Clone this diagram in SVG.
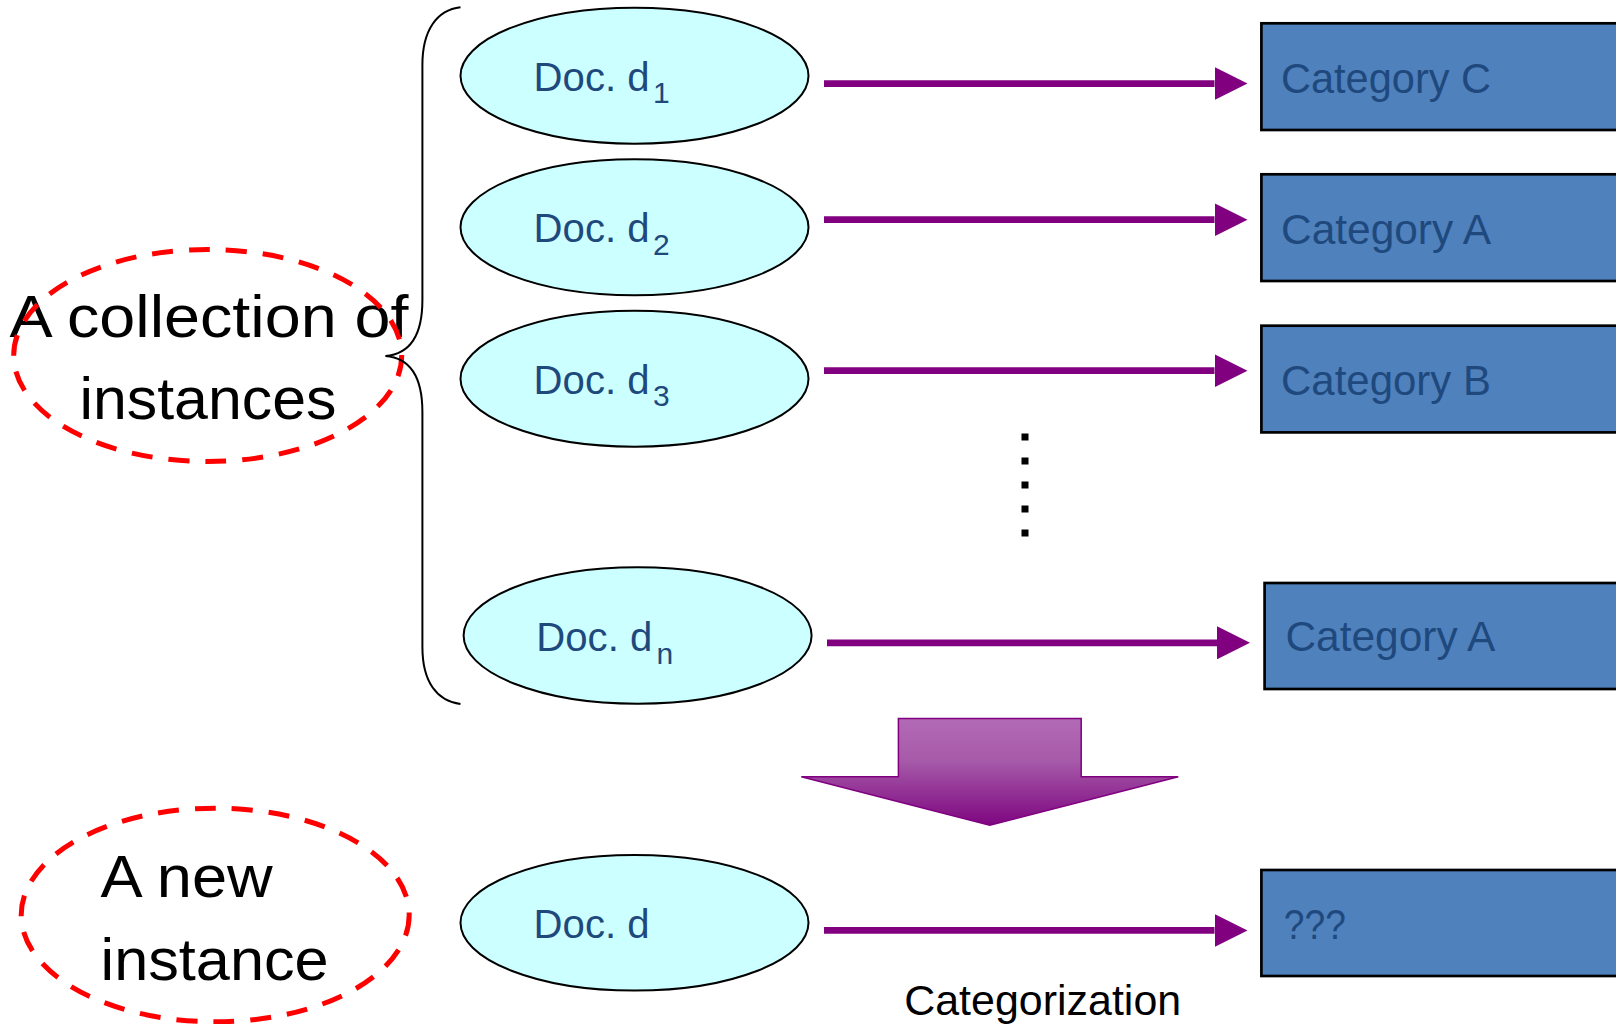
<svg xmlns="http://www.w3.org/2000/svg" width="1616" height="1024" viewBox="0 0 1616 1024">
  <style>
    .doc { fill: #CCFFFF; stroke: #000; stroke-width: 2; }
    .cat { fill: #4F81BD; stroke: #000; stroke-width: 2.7; }
    .ring { fill: none; stroke: #FF0000; stroke-width: 5; stroke-dasharray: 21 16; }
    .edge { stroke: #800080; stroke-width: 6.8; fill: none; marker-end: url(#head); }
    .lbl { font-family: "Liberation Sans Narrow", "Liberation Sans", Arial, sans-serif; }
    .big { font-size: 60px; fill: #000; }
    .doct { font-size: 40px; fill: #1F497D; }
    .sub { font-size: 30px; fill: #1F497D; }
    .catt { font-size: 42px; fill: #1F497D; }
    .note { font-size: 42px; fill: #000; }
  </style>
  <defs>
    <marker id="head" viewBox="0 0 33 33" refX="0" refY="16.5" markerWidth="33" markerHeight="33" markerUnits="userSpaceOnUse" orient="auto">
      <path d="M0,0 L33,16.5 L0,33 z" fill="#800080"/>
    </marker>
    <linearGradient id="purpleFade" x1="0" y1="0" x2="0" y2="1">
      <stop offset="0" stop-color="#B36AB5"/>
      <stop offset="0.4" stop-color="#A65AA9"/>
      <stop offset="1" stop-color="#7E0680"/>
    </linearGradient>
  </defs>

  <rect width="1616" height="1024" fill="#FFFFFF"/>

  <!-- left-hand labels -->
  <g id="collection">
    <text class="lbl big" x="9.5" y="337" textLength="399" lengthAdjust="spacingAndGlyphs">A collection of</text>
    <text class="lbl big" x="79.4" y="419" textLength="257" lengthAdjust="spacingAndGlyphs">instances</text>
    <ellipse class="ring" cx="207.7" cy="355.5" rx="194" ry="106"/>
  </g>
  <g id="new-instance">
    <text class="lbl big" x="100.6" y="897" textLength="172" lengthAdjust="spacingAndGlyphs">A new</text>
    <text class="lbl big" x="100.6" y="979.8" textLength="228" lengthAdjust="spacingAndGlyphs">instance</text>
    <ellipse class="ring" cx="215.2" cy="915" rx="194" ry="106.8"/>
  </g>

  <!-- curly brace grouping the training documents -->
  <g id="brace">
    <path d="M460.5,7.3 C437,10 422.4,30 422.4,65 L422.4,300 C422.4,335 410,354 385.4,356 C410,358 422.4,377 422.4,412 L422.4,647 C422.4,682 437,701 460.5,704" fill="none" stroke="#000" stroke-width="2"/>
  </g>

  <!-- documents -->
  <g id="doc-d1">
    <ellipse class="doc" cx="634.5" cy="75.7" rx="174" ry="68"/>
    <text class="lbl doct" x="533.6" y="90.7" textLength="116" lengthAdjust="spacingAndGlyphs">Doc. d</text>
    <text class="lbl sub" x="653" y="103.3">1</text>
  </g>
  <g id="doc-d2">
    <ellipse class="doc" cx="634.5" cy="227.3" rx="174" ry="68"/>
    <text class="lbl doct" x="533.6" y="242.3" textLength="116" lengthAdjust="spacingAndGlyphs">Doc. d</text>
    <text class="lbl sub" x="653" y="254.9">2</text>
  </g>
  <g id="doc-d3">
    <ellipse class="doc" cx="634.5" cy="378.7" rx="174" ry="68"/>
    <text class="lbl doct" x="533.6" y="393.7" textLength="116" lengthAdjust="spacingAndGlyphs">Doc. d</text>
    <text class="lbl sub" x="653" y="406.3">3</text>
  </g>
  <g id="doc-dn">
    <ellipse class="doc" cx="637.6" cy="635.5" rx="174" ry="68.3"/>
    <text class="lbl doct" x="536.3" y="651.4" textLength="116" lengthAdjust="spacingAndGlyphs">Doc. d</text>
    <text class="lbl sub" x="656.5" y="664">n</text>
  </g>
  <g id="doc-d">
    <ellipse class="doc" cx="634.5" cy="922.8" rx="174" ry="67.8"/>
    <text class="lbl doct" x="533.6" y="938.4" textLength="116" lengthAdjust="spacingAndGlyphs">Doc. d</text>
  </g>

  <!-- vertical ellipsis -->
  <g id="ellipsis" fill="#000">
    <rect x="1021.5" y="433.5" width="7" height="7"/>
    <rect x="1021.5" y="457.5" width="7" height="7"/>
    <rect x="1021.5" y="481.5" width="7" height="7"/>
    <rect x="1021.5" y="505.5" width="7" height="7"/>
    <rect x="1021.5" y="529.5" width="7" height="7"/>
  </g>

  <!-- categories -->
  <g id="cat-c">
    <rect class="cat" x="1261.4" y="23.3" width="370" height="106.7"/>
    <text class="lbl catt" x="1281" y="92.7" textLength="210" lengthAdjust="spacingAndGlyphs">Category C</text>
  </g>
  <g id="cat-a1">
    <rect class="cat" x="1261.4" y="174.3" width="370" height="106.7"/>
    <text class="lbl catt" x="1281" y="243.7" textLength="210" lengthAdjust="spacingAndGlyphs">Category A</text>
  </g>
  <g id="cat-b">
    <rect class="cat" x="1261.4" y="325.7" width="370" height="106.7"/>
    <text class="lbl catt" x="1281" y="395" textLength="210" lengthAdjust="spacingAndGlyphs">Category B</text>
  </g>
  <g id="cat-a2">
    <rect class="cat" x="1264.6" y="583" width="370" height="106"/>
    <text class="lbl catt" x="1285.4" y="651" textLength="210" lengthAdjust="spacingAndGlyphs">Category A</text>
  </g>
  <g id="cat-unknown">
    <rect class="cat" x="1261.4" y="870" width="370" height="106"/>
    <text class="lbl catt" x="1283.8" y="938.9" textLength="62" lengthAdjust="spacingAndGlyphs">???</text>
  </g>

  <!-- big down arrow: training leads to categorizing the new document -->
  <g id="step-arrow">
    <polygon points="898.4,718.5 1081.2,718.5 1081.2,776.7 1178.3,776.7 989.8,825.2 801.3,776.7 898.4,776.7" fill="url(#purpleFade)" stroke="#800080" stroke-width="1.5"/>
  </g>

  <g id="categorization-label">
    <text class="lbl note" x="904.2" y="1015" textLength="277" lengthAdjust="spacingAndGlyphs">Categorization</text>
  </g>

  <!-- connectors -->
  <g id="connectors">
    <line class="edge" x1="824" y1="83.6" x2="1214.5" y2="83.6"/>
    <line class="edge" x1="824" y1="219.7" x2="1214.5" y2="219.7"/>
    <line class="edge" x1="824" y1="370.7" x2="1214.5" y2="370.7"/>
    <line class="edge" x1="827" y1="642.8" x2="1217" y2="642.8"/>
    <line class="edge" x1="824" y1="930.4" x2="1214.5" y2="930.4"/>
  </g>
</svg>
